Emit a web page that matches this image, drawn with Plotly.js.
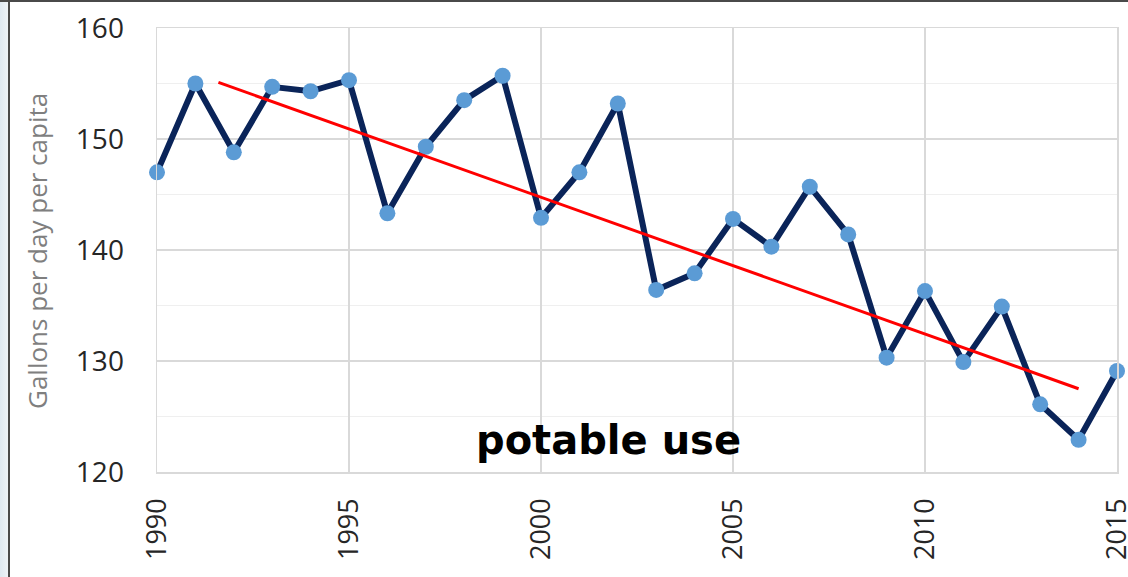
<!DOCTYPE html>
<html>
<head>
<meta charset="utf-8">
<script src="https://cdn.plot.ly/plotly-3.0.1.min.js"></script>
<style>
  html, body { margin: 0; padding: 0; background: #ffffff; }
  #wrap { position: relative; width: 1128px; height: 577px; overflow: hidden; }
  #chart { position: absolute; left: 0; top: 0; width: 1128px; height: 577px; }
  #strip { position: absolute; left: 0; top: 0; width: 8px; height: 577px; background: linear-gradient(to right, #dfe9f1, #eef3f7); pointer-events: none; }
  #vline { position: absolute; left: 8px; top: 0; width: 2px; height: 577px; background: #4a4a4a; pointer-events: none; }
  #hline { position: absolute; left: 0; top: 0; width: 1128px; height: 2px; background: #4a4a4a; pointer-events: none; }
</style>
</head>
<body>
<div id="wrap">
  <div id="chart"></div>
  <div id="strip"></div>
  <div id="vline"></div>
  <div id="hline"></div>
</div>
<script>
const years = [1990,1991,1992,1993,1994,1995,1996,1997,1998,1999,2000,2001,2002,2003,2004,2005,2006,2007,2008,2009,2010,2011,2012,2013,2014,2015];
const gallons = [147.0,155.0,148.8,154.7,154.3,155.3,143.3,149.3,153.5,155.7,142.9,147.0,153.2,136.4,137.9,142.8,140.3,145.7,141.4,130.3,136.3,129.9,134.9,126.1,122.9,129.1];
const trendYears = [1991.6, 2014.0];
const trendValues = [155.1, 127.5];
const xTicks = [1990,1995,2000,2005,2010,2015];
const yTicks = [120,130,140,150,160];
const yTitle = "Gallons per day per capita";
const label = "potable use";

const xTickFont = {family: "Open Sans, sans-serif", size: 27, color: "#262626"};
const yTickFont = {family: "Open Sans, sans-serif", size: 28, color: "#262626"};

const traces = [
  {
    x: years, y: gallons, type: "scatter", mode: "lines+markers",
    line: {color: "#0a2459", width: 6},
    marker: {color: "#5b9bd5", size: 16},
    hoverinfo: "x+y", showlegend: false, cliponaxis: false
  },
  {
    x: trendYears, y: trendValues, type: "scatter", mode: "lines",
    line: {color: "#ff0000", width: 3},
    showlegend: false
  }
];

const layout = {
  width: 1128, height: 577,
  margin: {l: 157, r: 11, t: 28, b: 105, pad: 0},
  paper_bgcolor: "#ffffff", plot_bgcolor: "#ffffff",
  showlegend: false,
  xaxis: {
    range: [1990, 2015], tickmode: "array", tickvals: xTicks, ticktext: xTicks.map(String),
    tickangle: -90, tickfont: xTickFont, ticklabeloverflow: "allow",
    ticks: "outside", ticklen: 14, tickcolor: "rgba(0,0,0,0)",
    showgrid: true, gridcolor: "#d9d9d9", gridwidth: 1.5,
    showline: true, linecolor: "#d9d9d9", linewidth: 1.5, mirror: true,
    zeroline: false, automargin: false
  },
  yaxis: {
    range: [120, 160], tickmode: "array", tickvals: yTicks, ticktext: yTicks.map(String),
    tickfont: yTickFont,
    ticks: "outside", ticklen: 26, tickcolor: "rgba(0,0,0,0)",
    showgrid: true, gridcolor: "#d9d9d9", gridwidth: 1.5,
    minor: {dtick: 5, showgrid: true, gridcolor: "#efefef", gridwidth: 1.5},
    showline: true, linecolor: "#d9d9d9", linewidth: 1.5, mirror: true,
    zeroline: false, automargin: false
  },
  annotations: [
    {
      text: yTitle, xref: "paper", yref: "paper",
      x: (37 - 157) / 960, y: (472 - 251) / 444,
      xanchor: "center", yanchor: "middle", textangle: -90, showarrow: false,
      font: {family: "Open Sans, sans-serif", size: 26, color: "#7f7f7f"}
    },
    {
      text: "<b>" + label + "</b>", xref: "paper", yref: "paper",
      x: (608 - 157) / 960, y: (472 - 440) / 444,
      xanchor: "center", yanchor: "middle", showarrow: false,
      font: {family: "DejaVu Sans, sans-serif", size: 40, color: "#000000"}
    }
  ]
};

Plotly.newPlot("chart", traces, layout, {staticPlot: true, displayModeBar: false});
</script>
</body>
</html>
